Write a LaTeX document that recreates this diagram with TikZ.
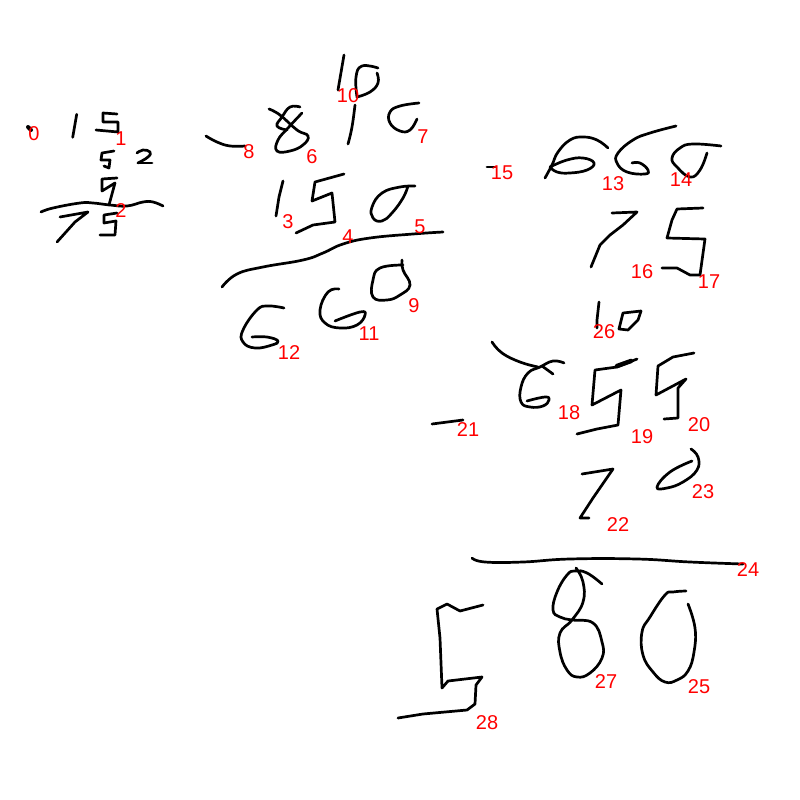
\documentclass[tikz,border=0pt]{standalone}
\usepackage{fontspec}
\setmainfont{Liberation Sans}

\tikzset{
    inkstroke/.style={black, line width=2.7pt, line cap=round, line join=round},
    inkcurve/.style={smooth, tension=0.75},
    numlabel/.style={text=red, inner sep=0pt, font=\fontsize{20}{20}\selectfont}
}

\begin{document}
\begin{tikzpicture}[x=1pt, y=-1pt]
    \useasboundingbox (0,0) rectangle (800,800);

    % Small sum, top left
    \draw[inkstroke, line width=4pt] (28,127) -- (31,130);
    \draw[inkstroke] (76.7,114.3) -- (72.7,137.3);
    \draw[inkstroke] (117,114) -- (103,113) -- (103,122) -- (118,122) -- (118,132) -- (96,130);
    \draw[inkstroke] (114,151) -- (102,153) -- (101,160) -- (110,160) -- (109,168) -- (104,166);
    \draw[inkstroke] plot[inkcurve] coordinates {(137,153) (143,150) (150,152) (148,157) (138,163)};
    \draw[inkstroke] (138,163) -- (152,163);
    \draw[inkstroke] (117,178) -- (102,179) -- (102,191) -- (115,183) -- (109,205);
    \draw[inkstroke] plot[inkcurve] coordinates {(41,212) (53,208) (80,203) (93,203) (110,205) (127,206) (143,202) (153,202) (163,206)};
    \draw[inkstroke] (60,217) -- (88,212) -- (75,222) -- (57,242);
    \draw[inkstroke] (117,213) -- (104,215) -- (104,223) -- (116,221) -- (115,235) -- (100,235);

    % Second sum
    \draw[inkstroke] plot[inkcurve] coordinates {(206,136) (217,142) (230,146) (245,146)};
    \draw[inkstroke] plot[inkcurve] coordinates {(269,109) (280,115) (297,130) (308,136) (303,145) (290,151) (277,151) (278,140) (288,128) (302,113)};
    \draw[inkstroke] plot[inkcurve] coordinates {(300,107) (290,107) (282,117) (277,126) (287,130)};
    \draw[inkstroke] (344,55) -- (338,90);
    \draw[inkstroke] plot[inkcurve] coordinates {(355,105) (352,127) (348,144)};
    \draw[inkstroke] plot[inkcurve] coordinates {(357,97) (356,77) (362,66) (378,68)};
    \draw[inkstroke] plot[inkcurve] coordinates {(377,73) (378,83) (370,92) (357,97)};
    \draw[inkstroke] plot[inkcurve] coordinates {(419,103) (400,106) (390,112) (390,123) (400,131) (410,130) (417,119)};
    \draw[inkstroke] (283,181) -- (279,197) -- (276,216);
    \draw[inkstroke] (344,174) -- (315,182) -- (312,201) -- (332,193) -- (335,222) -- (313,225) -- (296,233);
    \draw[inkstroke] plot[inkcurve] coordinates {(415,186) (400,187) (382,193) (372,207) (373,218) (382,221) (392,213) (403,198) (408,186)};
    \draw[inkstroke] plot[inkcurve] coordinates {(222,287) (237,274) (263,267) (303,260) (323,253) (343,244) (370,238) (413,234) (443,232)};
    \draw[inkstroke] plot[inkcurve] coordinates {(402,260) (403,270) (410,285) (400,295) (387,300) (373,297) (373,280) (380,268) (403,265)};
    \draw[inkstroke] plot[inkcurve] coordinates {(339,289) (328,292) (320,310) (325,323) (340,328) (357,325) (365,315) (360,312) (335,321)};
    \draw[inkstroke] plot[inkcurve] coordinates {(284,308) (268,306) (257,310) (243,330) (243,342) (255,348) (272,345) (278,341) (267,337) (252,337)};

    % Third sum, top right
    \draw[inkstroke] (487,167) -- (495,167);
    \draw[inkstroke] plot[inkcurve] coordinates {(545,178) (552,165) (558,152) (570,140) (583,137) (597,140) (608,148)};
    \draw[inkstroke] plot[inkcurve] coordinates {(550,167) (567,160) (583,158) (594,163) (587,170) (570,173) (557,172) (550,167)};
    \draw[inkstroke] plot[inkcurve] coordinates {(676,126) (650,133) (633,140) (618,153) (617,163) (627,172) (645,174) (648,170) (640,163) (632,163)};
    \draw[inkstroke] plot[inkcurve] coordinates {(721,146) (693,144) (680,148) (672,158) (677,167) (690,177) (700,170) (707,153)};
    \draw[inkstroke] (612,213) -- (637,212) -- (623,225) -- (610,235) -- (600,245) -- (591,267);
    \draw[inkstroke] (703,208) -- (677,209) -- (672,220) -- (667,238) -- (705,239) -- (700,275) -- (690,275) -- (677,268) -- (662,268);
    \draw[inkstroke] (599,302) -- (597,320) -- (597,328);
    \draw[inkstroke] (641,311) -- (623,313) -- (619,329) -- (628,330) -- (638,320) -- cycle;

    % Fourth sum, middle right
    \draw[inkstroke] plot[inkcurve] coordinates {(492,342) (502,353) (520,362) (538,367)};
    \draw[inkstroke] plot[inkcurve] coordinates {(564,363) (553,361) (540,367) (528,373) (521,387) (521,402) (530,407) (543,406) (549,400) (545,397) (527,401)};
    \draw[inkstroke] (542,366) -- (553,374);
    \draw[inkstroke] (637,359) -- (617,367) -- (595,370) -- (592,405) -- (621,390) -- (618,425) -- (597,429) -- (577,434);
    \draw[inkstroke, line width=4.5pt] (617,366) -- (631,361);
    \draw[inkstroke] (694,353) -- (673,357) -- (658,366) -- (656,395) -- (686,379) -- (678,388) -- (678,418) -- (664,419);
    \draw[inkstroke] (432,424) -- (463,420);
    \draw[inkstroke] (582,474) -- (613,469) -- (593,498) -- (580,518) -- (589,518);
    \draw[inkstroke] plot[inkcurve] coordinates {(691,449) (698,457) (697,470) (683,482) (667,488) (657,487) (670,472) (692,461)};

    % Bottom sum
    \draw[inkstroke] plot[inkcurve] coordinates {(472,558) (485,562) (523,562) (570,559) (637,559) (690,562) (743,564)};
    \draw[inkstroke] plot[inkcurve] coordinates {(576,568) (583,582) (583,602) (572,620) (560,633) (560,652) (567,670) (577,677) (590,673) (602,658) (602,642) (593,623) (572,620) (560,617) (553,610) (557,592) (567,575) (575,571) (587,573) (602,584)};
    \draw[inkstroke] plot[inkcurve] coordinates {(686,591) (673,592) (665,595) (650,617) (642,632) (643,655) (653,672) (665,682) (677,680) (688,671) (694,652) (695,628) (688,604)};
    \draw[inkstroke] (483,605) -- (460,611) -- (447,604) -- (437,609) -- (440,638) -- (442,688) -- (448,681) -- (482,677) -- (476,685) -- (475,704) -- (467,710) -- (423,714) -- (398,718);

    % Stroke numbers
    \foreach \px/\py/\num in {34/134/0, 121/139/1, 121/211/2, 288/222/3, 348/237/4, 420/227/5,
        312/157/6, 423/137/7, 249/152/8, 414/306/9, 348/96/10, 369/334/11, 289/353/12,
        613/184/13, 681/180/14, 502/173/15, 642/272/16, 709/282/17, 569/413/18, 642/437/19,
        699/425/20, 468/430/21, 618/525/22, 703/492/23, 748/570/24, 699/687/25, 604/332/26,
        606/682/27, 487/723/28} {
        \node[numlabel] (num\num) at (\px,\py) {\num};
    }
\end{tikzpicture}
\end{document}
